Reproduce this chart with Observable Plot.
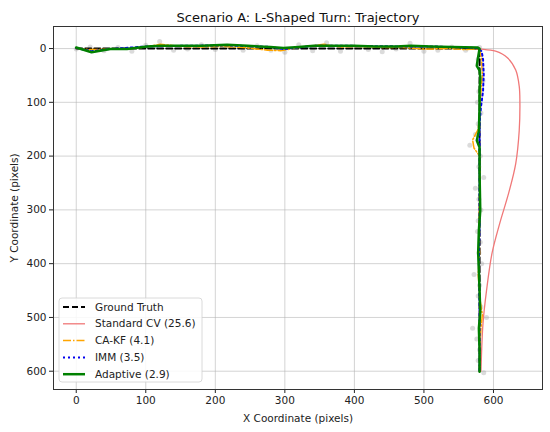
<!DOCTYPE html>
<html>
<head>
<meta charset="utf-8">
<script src="https://cdn.jsdelivr.net/npm/d3@7"></script>
<script src="https://cdn.jsdelivr.net/npm/@observablehq/plot@0.6"></script>
<style>
  body { margin: 0; background: #fff; }
  #chart svg { font-family: "DejaVu Sans", sans-serif; }
</style>
</head>
<body>
<div id="chart"></div>
<script>
// ---- Data ----
const titleText = "Scenario A: L-Shaped Turn: Trajectory";
const xTicks = [0, 100, 200, 300, 400, 500, 600];
const yTicks = [0, 100, 200, 300, 400, 500, 600];

const truthX = [0, 580, 580];
const truthY = [0, 0, 600];

const cvX = [560, 582, 603, 620, 632, 637, 638, 637, 632, 622, 609, 598, 590, 585, 582];
const cvY = [0, 1, 5, 17, 40, 70, 100, 153, 214, 268, 325, 380, 450, 510, 600];

const cakfX = [0, 20, 50, 80, 100, 121, 150, 180, 210, 240, 275, 294, 320, 356, 380, 410, 440, 470, 500, 539, 560, 578,
               580, 583, 584, 582, 581, 578, 570, 572, 580, 581, 580, 579, 580, 578, 581, 584, 582, 580, 581];
const cakfY = [0, 2, 1, 0, -3, -8, -4, -3, -4, -2, 3, 4, -2, -8, -3, -4, -2, -2, 1, 0, 2, 0,
               0, 20, 50, 80, 110, 150, 170, 185, 200, 240, 280, 330, 380, 420, 470, 495, 520, 560, 600];

const immX = [0, 22, 49, 102, 150, 217, 279, 298, 342, 399, 460, 510, 577,
              583, 585, 586, 585, 582, 580, 580, 580, 580, 579, 580, 580, 580];
const immY = [-1, 5, 1, -4, -5, -6, -3, 1, -5, -5, -4, -4, -1,
              5, 20, 48, 79, 109, 140, 180, 250, 320, 400, 480, 540, 600];

const adaptX = [0, 22, 49, 73, 102, 121, 150, 180, 217, 246, 279, 298, 320, 342, 370, 399, 430, 460, 481, 510, 540, 577,
                580, 577, 576, 580, 581, 580, 580, 579, 576, 580, 580, 581, 579, 578, 579, 580, 581, 579, 580, 580];
const adaptY = [-2, 7, 1, 1, -4, -5, -5, -5, -7, -5, -3, -1, -3, -5, -5, -5, -4, -4, -5, -4, -3, -2,
                0, 23, 32, 41, 54, 79, 109, 153, 171, 184, 233, 301, 338, 380, 415, 450, 490, 520, 560, 601];

const measX = [0, 20, 40, 60, 80, 100, 120, 140, 160, 180, 200, 220, 240, 260, 280, 300, 320, 340, 360, 380,
               400, 420, 440, 460, 480, 500, 520, 540, 560, 580,
               578, 583, 585, 579, 577, 582, 578, 574, 566, 581, 579, 586, 574, 579, 582, 578, 577, 581, 579, 583,
               572, 580, 578, 582, 590, 570, 576, 580, 578, 586];
const measY = [1, -3, 4, -2, 5, -6, -13, 3, 1, -7, 2, -4, 3, -5, 3, 7, -7, 4, -11, 5,
               -3, 2, 6, 1, -10, 5, 3, -3, 3, -2,
               20, 40, 60, 80, 100, 120, 140, 160, 180, 200, 220, 240, 260, 280, 300, 320, 340, 360, 380, 400,
               420, 440, 460, 480, 500, 520, 540, 560, 580, 603];

const seriesNames = ["Ground Truth", "Standard CV (25.6)", "CA-KF (4.1)", "IMM (3.5)", "Adaptive (2.9)"];

// ---- Build tables ----
const zip = (xs, ys) => xs.map((x, i) => ({x, y: ys[i]}));
const truth = zip(truthX, truthY);
const cv = zip(cvX, cvY);
const cakf = zip(cakfX, cakfY);
const imm = zip(immX, immY);
const adapt = zip(adaptX, adaptY);
const meas = zip(measX, measY);

const styles = [
  {stroke: "#000000", strokeWidth: 2, strokeDasharray: "6,3"},
  {stroke: "#f07878", strokeWidth: 1.3},
  {stroke: "#ffa500", strokeWidth: 1.5, strokeDasharray: "8,2,1.5,2"},
  {stroke: "#0000ee", strokeWidth: 2, strokeDasharray: "2,3"},
  {stroke: "#008000", strokeWidth: 2.5}
];

const W = 550, H = 432;
const mL = 53, mR = 8, mT = 26, mB = 43;

const chart = Plot.plot({
  width: W, height: H,
  marginLeft: mL, marginRight: mR, marginTop: mT, marginBottom: mB,
  style: {fontFamily: "DejaVu Sans, sans-serif", fontSize: "10.5px", color: "#222", background: "#fff"},
  x: {domain: [-32.7, 670.5]},
  y: {domain: [-41, 634], reverse: true},
  marks: [
    Plot.gridX(xTicks, {stroke: "#b0b0b0", strokeOpacity: 0.7, strokeWidth: 0.8}),
    Plot.gridY(yTicks, {stroke: "#b0b0b0", strokeOpacity: 0.7, strokeWidth: 0.8}),
    Plot.axisX(xTicks, {tickSize: 4, tickPadding: 3, fontSize: 10.5, label: "X Coordinate (pixels)", labelAnchor: "center", labelArrow: "none", labelOffset: 32}),
    Plot.axisY(yTicks, {tickSize: 4, tickPadding: 3, fontSize: 10.5, label: "Y Coordinate (pixels)", labelAnchor: "center", labelArrow: "none", labelOffset: 43}),
    Plot.dot(meas, {x: "x", y: "y", r: 2.5, fill: "#999", fillOpacity: 0.35, stroke: "none"}),
    Plot.line(cv, {x: "x", y: "y", curve: "catmull-rom", ...styles[1]}),
    Plot.line(truth, {x: "x", y: "y", ...styles[0]}),
    Plot.line(cakf, {x: "x", y: "y", ...styles[2]}),
    Plot.line(imm, {x: "x", y: "y", ...styles[3]}),
    Plot.line(adapt, {x: "x", y: "y", ...styles[4]}),
    Plot.frame({stroke: "#333", strokeWidth: 1}),
    Plot.text([titleText], {frameAnchor: "top", dy: -14, fontSize: 13, fill: "#111", text: d => d})
  ]
});

document.getElementById("chart").appendChild(chart);

// ---- Legend (drawn into the SVG, lower-left of the frame) ----
const svg = d3.select(chart);
const lx = mL + 6, ly = H - mB - 91;
const lg = svg.append("g").attr("transform", `translate(${lx},${ly})`).attr("text-anchor", "start");
lg.append("rect").attr("x", 0).attr("y", 0).attr("width", 143).attr("height", 84)
  .attr("rx", 3).attr("fill", "#fff").attr("fill-opacity", 0.85)
  .attr("stroke", "#d0d0d0").attr("stroke-width", 0.8);
seriesNames.forEach((name, i) => {
  const yy = 9 + i * 16.8;
  const s = styles[i];
  lg.append("line").attr("x1", 4).attr("x2", 26).attr("y1", yy).attr("y2", yy)
    .attr("stroke", s.stroke).attr("stroke-width", s.strokeWidth)
    .attr("stroke-dasharray", s.strokeDasharray || null);
  lg.append("text").attr("x", 36).attr("y", yy).attr("dy", "0.35em")
    .attr("text-anchor", "start")
    .attr("font-size", 10.5).attr("fill", "#222").text(name);
});
</script>
</body>
</html>
